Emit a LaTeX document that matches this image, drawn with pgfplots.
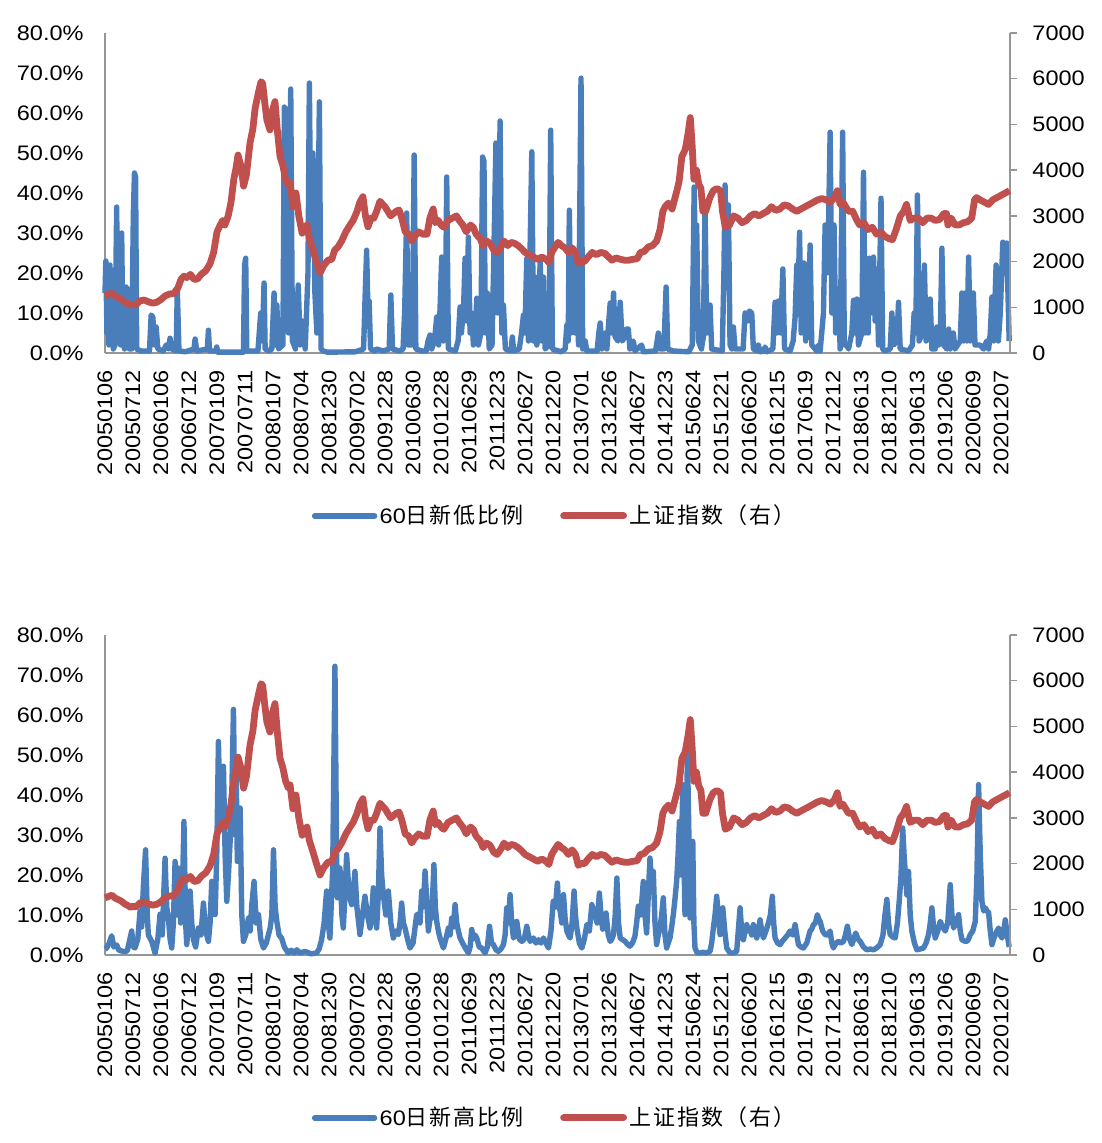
\documentclass[border=0pt]{standalone}
\usepackage{fontspec}
\setmainfont[FakeStretch=1.12]{Liberation Sans}
\newfontfamily\cjk[LetterSpace=9]{Noto Sans CJK SC}
\usepackage{pgfplots}
\usepackage{pgfplotstable}
\pgfplotsset{compat=1.18}
\definecolor{sblue}{RGB}{74,126,187}
\definecolor{sred}{RGB}{192,80,77}
\definecolor{axisgray}{RGB}{150,150,150}

\pgfplotstableread{
t v
0.00 1250
0.12 1280
0.25 1310
0.35 1250
0.45 1220
0.58 1180
0.70 1120
0.82 1080
0.92 1040
1.00 1070
1.10 1050
1.25 1140
1.40 1160
1.55 1120
1.70 1090
1.85 1110
2.00 1170
2.15 1250
2.30 1290
2.45 1300
2.60 1420
2.72 1620
2.82 1680
2.92 1650
3.05 1720
3.18 1610
3.30 1620
3.45 1730
3.60 1800
3.75 1950
3.88 2200
4.00 2650
4.10 2780
4.20 2900
4.28 2800
4.40 3000
4.50 3300
4.60 3800
4.68 4050
4.75 4330
4.85 4100
4.95 3650
5.05 3900
5.18 4600
5.28 4900
5.36 5350
5.48 5700
5.57 5935
5.63 5900
5.70 5500
5.78 5100
5.89 4880
5.98 5300
6.07 5500
6.15 4900
6.25 4300
6.35 4100
6.45 3800
6.55 3650
6.61 3720
6.71 3200
6.82 3500
6.92 3000
7.04 2620
7.12 2700
7.21 2800
7.30 2500
7.43 2250
7.55 2000
7.68 1750
7.80 1900
7.96 2030
8.10 2050
8.20 2250
8.32 2320
8.45 2450
8.60 2650
8.75 2800
8.86 2900
9.00 3100
9.10 3300
9.21 3420
9.30 3000
9.39 2760
9.50 2950
9.60 2950
9.70 3100
9.82 3320
9.92 3250
10.00 3200
10.10 3100
10.20 3000
10.30 3050
10.40 3100
10.50 3130
10.60 2950
10.72 2650
10.85 2600
10.95 2450
11.05 2550
11.20 2650
11.35 2600
11.50 2600
11.60 2950
11.72 3150
11.80 2850
11.90 2900
12.00 2800
12.10 2750
12.25 2900
12.40 2950
12.55 3000
12.65 2900
12.78 2800
12.90 2650
13.05 2800
13.15 2750
13.25 2600
13.40 2500
13.50 2350
13.62 2450
13.75 2400
13.88 2250
14.00 2200
14.12 2300
14.25 2450
14.38 2350
14.50 2420
14.62 2400
14.75 2350
14.88 2280
15.00 2200
15.15 2150
15.30 2100
15.45 2050
15.60 2100
15.75 2050
15.85 1980
15.95 2200
16.05 2300
16.18 2420
16.30 2350
16.42 2300
16.55 2200
16.68 2300
16.80 2200
16.90 1960
17.00 2000
17.12 2000
17.25 2100
17.40 2200
17.55 2150
17.70 2200
17.85 2180
17.98 2100
18.10 2030
18.25 2080
18.40 2050
18.55 2030
18.70 2030
18.85 2050
19.00 2060
19.12 2200
19.25 2220
19.40 2320
19.55 2350
19.70 2450
19.82 2700
19.92 3100
20.00 3200
20.12 3280
20.25 3150
20.40 3500
20.50 3750
20.60 4300
20.72 4450
20.82 4800
20.90 5150
20.97 4500
21.03 3800
21.12 4000
21.20 3700
21.28 3600
21.35 3100
21.45 3100
21.60 3400
21.72 3550
21.85 3600
21.98 3550
22.05 3100
22.15 2750
22.30 2800
22.45 3000
22.60 2950
22.75 2850
22.90 2900
23.05 3000
23.20 3050
23.35 3000
23.50 3050
23.65 3100
23.80 3200
23.95 3120
24.10 3150
24.25 3240
24.40 3220
24.55 3150
24.70 3100
24.85 3150
25.00 3200
25.15 3250
25.30 3300
25.45 3350
25.60 3380
25.75 3350
25.90 3300
26.05 3400
26.15 3550
26.25 3250
26.35 3300
26.45 3200
26.55 3100
26.70 3100
26.85 2900
26.95 2800
27.10 2850
27.25 2700
27.40 2750
27.55 2600
27.70 2650
27.85 2550
28.00 2500
28.12 2480
28.25 2700
28.40 3000
28.52 3100
28.62 3250
28.75 2900
28.90 2950
29.05 2950
29.20 2850
29.35 2950
29.50 2950
29.65 2900
29.80 2920
29.95 3050
30.05 3050
30.10 2800
30.22 2950
30.35 2800
30.50 2800
30.65 2850
30.80 2870
30.95 2950
31.05 3350
31.12 3400
31.25 3350
31.40 3300
31.55 3250
31.70 3350
31.85 3400
32.00 3450
32.15 3500
32.30 3550
}\redtab

\pgfplotsset{
  leftax/.style={
    width=452.5pt, height=160pt, scale only axis, anchor=south west,
    xmin=0, xmax=32.55, ymin=0, ymax=80, clip=false,
    axis x line*=bottom, axis y line*=left,
    axis line style={draw=axisgray, line width=0.75pt},
    major tick length=0pt,
    xtick={0,1.00719,...,32.3},
    xticklabels={20050106,20050712,20060106,20060712,20070109,20070711,20080107,20080704,20081230,20090702,20091228,20100630,20101228,20110629,20111223,20120627,20121220,20130701,20131226,20140627,20141223,20150624,20151221,20160620,20161215,20170619,20171212,20180613,20181210,20190613,20191206,20200609,20201207},
    xticklabel style={rotate=90, anchor=east, inner sep=0pt, font=\fontsize{10.5pt}{12pt}\selectfont},
    xticklabel shift=8.5pt,
    ytick={0,10,...,80},
    yticklabels={0.0\%,10.0\%,20.0\%,30.0\%,40.0\%,50.0\%,60.0\%,70.0\%,80.0\%},
    yticklabel style={inner sep=0pt, anchor=east, font=\fontsize{10.5pt}{12pt}\selectfont},
    yticklabel shift=10.5pt,
  },
  rightax/.style={
    width=452.5pt, height=160pt, scale only axis, anchor=south west,
    xmin=0, xmax=32.55, ymin=0, ymax=7000, clip=false,
    axis x line=none, axis y line*=right,
    axis line style={draw=axisgray, line width=0.75pt},
    tick align=outside, major tick length=3.5pt,
    ytick style={draw=axisgray, line width=0.75pt},
    ytick={0,1000,...,7000},
    yticklabels={0,1000,2000,3000,4000,5000,6000,7000},
    yticklabel style={inner sep=0pt, anchor=west, font=\fontsize{10.5pt}{12pt}\selectfont},
    yticklabel shift=7.5pt,
    legend columns=2,
    legend style={draw=none, fill=none, at={(0.497,-0.509)}, anchor=center,
      /tikz/every even column/.append style={column sep=17pt},
      nodes={inner sep=1.2pt}},
    legend image code/.code={\draw[line cap=round] (0pt,0pt) -- (30pt,0pt);},
  },
  bluel/.style={color=sblue, line width=2.7pt, line join=round},
  redl/.style={color=sred, line width=3.4pt, line join=round},
}

\begin{document}
\begin{tikzpicture}[x=1pt,y=1pt]
\useasboundingbox (0,0) rectangle (550.5,-571.5);

% ---------------- top panel ----------------
\begin{axis}[leftax, at={(52.5pt,-176.5pt)}]
\addplot[bluel] coordinates {
(0,15)(0.03,23)(0.07,5)(0.1,20)(0.14,2)(0.18,22)(0.22,3)(0.26,12)(0.3,1)(0.36,2)(0.42,36.5)(0.46,3)(0.52,18)(0.56,2)(0.6,30)(0.64,5)(0.7,1)(0.76,16.5)(0.8,3)(0.84,16)(0.88,1)(0.96,1)(1.02,35)(1.06,45)(1.1,44)(1.14,1)(1.3,0.5)(1.6,0.5)(1.66,9.5)(1.72,9)(1.78,2)(1.84,6.5)(1.9,1)(2.1,0.5)(2.2,2)(2.28,1)(2.34,3.7)(2.4,1)(2.56,0.5)(2.6,16)(2.66,0.5)(2.9,0.3)(3.2,1)(3.24,3.5)(3.3,0.5)(3.68,1)(3.72,5.7)(3.76,0.5)(3.98,0.5)(4.02,1.5)(4.06,0.2)(4.98,0.2)(5.02,22)(5.06,23.7)(5.1,0.5)(5.5,0.5)(5.6,10)(5.66,3)(5.72,17.5)(5.76,1)(5.9,0.5)(6.0,1)(6.08,15)(6.14,2)(6.18,12)(6.24,1)(6.4,2)(6.45,61.5)(6.5,20)(6.54,61)(6.6,5)(6.68,66)(6.74,3)(6.85,1)(6.95,17)(7.02,2)(7.1,8)(7.2,1)(7.3,20)(7.35,67.5)(7.4,30)(7.48,50)(7.55,15)(7.62,5)(7.71,62.8)(7.77,1)(7.85,0.5)(8.0,0.2)(9.0,0.3)(9.3,1)(9.35,13)(9.41,25.7)(9.45,13)(9.5,13)(9.55,1)(9.7,0.5)(9.75,1)(10.0,0.5)(10.22,1)(10.28,14.5)(10.34,1)(10.6,0.5)(10.72,1)(10.78,11)(10.85,35)(10.9,2)(11.05,2)(11.12,49.5)(11.18,1)(11.4,0.5)
(11.55,0.5)(11.62,3)(11.69,4.5)(11.75,1)(11.85,3)(11.93,9)(12.0,2)(12.05,11)(12.11,24)(12.17,3)(12.24,5)(12.29,44)(12.35,1)(12.6,0.5)(12.7,3)(12.77,11.5)(12.82,5)(12.9,12)(12.95,23.7)(13.0,8)(13.07,29)(13.13,5)(13.19,10)(13.25,2)(13.32,5)(13.37,13.7)(13.43,2)(13.52,5)(13.58,49)(13.63,48)(13.68,5)(13.75,15)(13.82,1)(13.92,2)(14.0,30)(14.06,52.5)(14.12,10)(14.21,58)(14.27,5)(14.33,12)(14.4,1)(14.6,0.5)(14.65,4)(14.7,0.5)(14.9,1)(14.98,5)(15.05,9.5)(15.1,5)(15.17,23.7)(15.23,3)(15.35,50.3)(15.41,3)(15.47,19)(15.53,2)(15.6,5)(15.65,23.7)(15.71,3)(15.77,19)(15.83,1)(15.97,2)(16.03,55.7)(16.09,1)(16.4,0.3)(16.55,1)(16.61,7)(16.66,3)(16.70,35.7)(16.76,5)(16.85,24)(16.91,5)(16.97,23)(17.03,2)(17.12,68.7)(17.18,1)(17.27,3)(17.33,0.5)(17.7,0.5)(17.76,5)(17.81,7.5)(17.87,1)(17.94,2)(17.99,5)(18.05,1)(18.12,8)(18.17,12.5)(18.23,5)(18.29,15)(18.35,4)(18.45,3)(18.53,12.7)(18.6,3)(18.7,4)(18.76,6)(18.82,6)(18.88,1)(19.0,3)(19.06,0.5)(19.3,2)(19.36,0.3)(19.8,0.5)(19.86,3)(19.9,5)(19.96,1)(20.1,1)(20.18,16.5)(20.24,1)(20.44,0.5)(21.0,0.3)(21.12,2)(21.19,41.5)(21.24,20)(21.28,32)(21.34,3)(21.45,1)(21.52,4)(21.58,37)(21.64,5)(21.70,11)(21.76,12)(21.82,1)
(22.2,0.5)(22.26,20)(22.3,42)(22.36,20)(22.42,37)(22.48,2)(22.55,1)(22.6,6.5)(22.66,1)(22.95,1)(23.02,10)(23.1,8)(23.18,10.5)(23.26,10)(23.32,1)(23.45,0.5)(23.5,2)(23.56,0.3)(23.7,0.5)(23.74,1.5)(23.8,0.3)(24.02,1)(24.1,12.7)(24.16,5)(24.22,13)(24.3,5)(24.38,21)(24.44,1)(24.64,0.5)(24.75,3)(24.82,9)(24.88,22)(24.93,15)(24.98,30.2)(25.04,5)(25.09,10)(25.14,22.5)(25.2,3)(25.3,10)(25.36,27)(25.42,2)(25.6,0.5)(25.66,2)(25.72,0.5)(25.84,10)(25.9,32)(25.96,20)(26.02,30)(26.08,55.2)(26.14,10)(26.22,32)(26.28,5)(26.38,16)(26.44,1)(26.53,55.2)(26.59,2)(26.68,2)(26.74,1)(26.86,5)(26.92,13.2)(26.98,5)(27.04,13.5)(27.1,2)(27.22,5)(27.28,45.2)(27.34,5)(27.40,21)(27.45,5)(27.49,23.7)(27.55,10)(27.64,24)(27.70,8)(27.76,21)(27.82,2)(27.91,38.7)(27.97,1)(28.06,0.5)(28.24,1)(28.3,10)(28.36,2)(28.48,3)(28.54,12.7)(28.6,1)(28.9,0.5)(29.04,2)(29.10,10)(29.16,5)(29.22,39.5)(29.28,3)(29.4,5)(29.47,22)(29.53,3)(29.62,5)(29.68,13.5)(29.74,1)(29.86,1)(29.92,6.5)(29.98,2)(30.04,3)(30.10,26.2)(30.16,2)(30.28,1)(30.34,6)(30.4,1)(30.51,5)(30.57,1)(30.76,3)(30.82,15)(30.88,3)(30.94,15)(31.0,3)(31.06,24)(31.12,3)(31.23,15)(31.29,2)(31.47,2)(31.6,1)(31.71,3)(31.78,1)(31.84,5)(31.90,14)(31.96,3)(32.05,22)(32.1,5)(32.13,3)(32.2,10)(32.29,27.7)(32.36,20)(32.43,27.5)(32.52,3)
};
\end{axis}
\begin{axis}[rightax, at={(52.5pt,-176.5pt)}]
\addlegendimage{bluel}
\addlegendentry{{\fontsize{10.5pt}{12pt}\selectfont 60}{\cjk\fontsize{11pt}{13pt}\selectfont 日新低比例}}
\addplot[redl] table[x expr=\thisrow{t}*1.00719, y=v] {\redtab};
\addlegendentry{{\cjk\fontsize{11pt}{13pt}\selectfont 上证指数（右）}}
\end{axis}

% ---------------- bottom panel ----------------
\begin{axis}[leftax, at={(52.5pt,-477.5pt)}]
\addplot[bluel] coordinates {
(0,1.5)(0.06,1.75)(0.15,3)(0.24,4.8)(0.32,2)(0.42,2.5)(0.5,1.2)(0.66,0.9)(0.8,1)(0.96,6)(1.02,2)(1.08,1.75)(1.18,4)(1.26,11)(1.32,7)(1.38,17.2)(1.46,26.3)(1.52,10)(1.56,5)(1.68,3.4)(1.8,0.5)(1.9,4)(1.98,10.2)(2.06,5)(2.16,24.2)(2.22,12)(2.28,9.25)(2.34,4)(2.40,1.75)(2.46,8)(2.52,23.4)(2.58,10)(2.64,21.75)(2.72,8)(2.78,15)(2.84,33.4)(2.9,8)(2.94,2.6)(3.0,8)(3.06,16)(3.12,8)(3.18,3.8)(3.26,2)(3.36,6.75)(3.45,5)(3.54,13)(3.62,6)(3.72,3.4)(3.78,8)(3.84,18.4)(3.9,12)(3.96,10.1)(4.02,25)(4.08,53.4)(4.14,33.4)(4.2,40)(4.26,47.2)(4.32,25)(4.38,13.4)(4.44,20)(4.50,28.4)(4.56,40)(4.62,61.4)(4.68,30)(4.72,45)(4.76,23.4)(4.82,30)(4.86,36.75)(4.92,10)(4.98,3.4)(5.06,5)(5.16,9.25)(5.22,6)(5.28,12.6)(5.36,18.4)(5.44,8)(5.52,10.1)(5.6,4)(5.70,1.75)(5.8,3)(5.94,6.75)(6.0,10)(6.06,26.3)(6.12,12)(6.18,8.4)(6.26,5)(6.35,4.25)(6.45,2)(6.59,0.5)(6.7,1.2)(6.8,0.5)(6.9,1.3)(7.01,0.5)(7.2,0.9)(7.4,0.3)(7.61,0.5)(7.7,1.5)(7.79,3.8)(7.88,8)(7.97,16)(8.03,8)(8.09,4.25)(8.19,21.75)(8.27,72.2)(8.33,25)(8.36,14.3)(8.45,21.75)(8.52,10)(8.57,6.75)(8.63,15)(8.69,25.1)(8.78,15)(8.87,12.6)(8.93,16)(8.99,20.9)(9.06,12)(9.17,5.1)(9.26,10)(9.35,14.7)(9.44,10)(9.53,6.75)(9.59,10)(9.65,16.8)(9.71,10)(9.77,6.75)(9.83,15)(9.89,31.75)(9.95,20)(10.01,15.1)(10.1,10)(10.19,16)(10.28,8)(10.37,4.25)(10.46,6)(10.55,5.1)(10.61,8)(10.67,13)(10.73,8)(10.79,6.75)(10.88,4)(10.97,1.75)
(11.08,3)(11.21,10.1)(11.27,10.2)(11.33,8)(11.39,16)(11.45,12)(11.51,21)(11.57,14)(11.63,6)(11.69,9)(11.75,9.25)(11.83,22.6)(11.88,12)(11.93,8.4)(11.99,6)(12.05,4.25)(12.11,3)(12.17,1.75)(12.26,4)(12.35,6.75)(12.41,5)(12.47,9.25)(12.53,7)(12.59,12.6)(12.65,8)(12.71,6)(12.77,4.25)(12.89,2.6)(12.98,1.5)(13.07,0.5)(13.13,2)(13.19,6.4)(13.25,4)(13.31,5)(13.37,4.25)(13.46,2)(13.55,1.75)(13.67,0.5)(13.75,2)(13.83,7.2)(13.9,3)(13.97,2.6)(14.06,1.3)(14.15,0.9)(14.24,1.5)(14.33,2.6)(14.39,5)(14.45,11.8)(14.51,8)(14.57,15.1)(14.63,8)(14.69,4.25)(14.75,5)(14.81,8.4)(14.9,4)(14.99,3.4)(15.08,4)(15.17,7.2)(15.23,5)(15.29,3.4)(15.35,3.8)(15.41,4.25)(15.5,3)(15.59,3.8)(15.68,3)(15.77,4.25)(15.86,3)(15.95,1.75)(16.04,6)(16.12,13.4)(16.2,12)(16.27,18)(16.32,12)(16.37,11)(16.43,8)(16.49,15.1)(16.55,9)(16.61,6)(16.67,5)(16.73,4.25)(16.8,8)(16.87,16)(16.92,10)(16.97,6.75)(17.06,3)(17.15,1.75)(17.24,4)(17.33,7.6)(17.42,6)(17.51,12.6)(17.57,11)(17.63,10.1)(17.7,8)(17.78,15.5)(17.84,10)(17.9,6.4)(17.96,7)(18.02,10.5)(18.1,5)(18.17,3.4)(18.23,4)(18.29,5.1)(18.35,10)(18.41,19.25)(18.47,8)(18.53,4.25)(18.62,3.8)(18.71,3.4)(18.8,2.6)(18.88,2.2)(18.97,3)(19.06,4.7)(19.12,8)(19.18,12.2)(19.27,10)(19.36,18.4)(19.42,10)(19.48,5.5)(19.54,15)(19.6,24.25)(19.66,18)(19.72,20.9)(19.78,8)(19.84,2.6)(19.9,5)(19.96,6.75)(20.02,10)(20.08,14.3)(20.14,5)(20.2,1.75)(20.26,3)(20.32,4.25)(20.38,7)(20.44,10.1)(20.5,14)(20.56,18.4)(20.61,25)(20.66,33.4)(20.72,20)(20.78,42.6)(20.82,25)(20.86,10.1)(20.9,30)(20.95,50.1)(21.0,30)(21.04,9.25)(21.09,20)(21.14,28.4)(21.18,8)(21.22,1.75)(21.3,0.5)(21.4,0.5)(21.5,0.7)(21.6,0.5)(21.76,0.9)
(21.82,3)(21.88,6.75)(21.94,10)(22.00,14.7)(22.06,10)(22.12,5.1)(22.17,8)(22.22,11.8)(22.29,6)(22.36,1.75)(22.48,0.5)(22.6,0.5)(22.72,0.9)(22.84,11.8)(22.9,6)(22.96,3.8)(23.02,6)(23.08,7.6)(23.14,6)(23.2,6.75)(23.26,5)(23.32,7.6)(23.38,6)(23.44,4.25)(23.5,6)(23.56,8.8)(23.62,6)(23.68,4.25)(23.77,6)(23.86,8)(23.93,10)(24.0,14.7)(24.05,8)(24.1,4.25)(24.19,3)(24.28,2.6)(24.37,3.5)(24.46,4.25)(24.55,5)(24.64,6)(24.73,5)(24.82,7.6)(24.88,5)(24.94,2.6)(25.03,2)(25.12,1.75)(25.24,3)(25.36,6)(25.42,6.5)(25.48,7.6)(25.55,8)(25.62,10.1)(25.67,9)(25.72,8.4)(25.81,6)(25.9,5.1)(25.99,5)(26.08,6)(26.14,3)(26.2,1.75)(26.29,3)(26.38,3.4)(26.47,3)(26.56,3.4)(26.63,5)(26.7,7.2)(26.78,4)(26.86,2.6)(26.93,4)(27.0,5.5)(27.08,4)(27.16,3.4)(27.28,2)(27.4,1.3)(27.52,1.5)(27.64,1.3)(27.76,1.8)(27.88,2.6)(27.98,5)(28.05,10)(28.12,13.9)(28.18,8)(28.24,5.1)(28.33,4.5)(28.42,4.25)(28.5,8)(28.57,13.9)(28.63,20)(28.69,31.75)(28.74,25)(28.78,20.9)(28.84,15)(28.9,20.9)(28.96,10)(29.02,6)(29.11,3)(29.2,1.3)(29.32,1.5)(29.44,1.75)(29.53,3)(29.62,5.1)(29.68,8)(29.74,11.8)(29.8,7)(29.86,4.25)(29.95,6)(30.04,8.4)(30.13,7)(30.22,6)(30.31,8)(30.40,17.6)(30.46,10)(30.52,6.75)(30.61,8)(30.70,10.1)(30.76,6)(30.82,3.8)(30.91,3.5)(31.0,3.4)(31.06,4)(31.12,5.1)(31.21,6)(31.30,8.4)(31.36,20)(31.42,42.6)(31.48,25)(31.54,13.4)(31.6,11)(31.66,11.8)(31.72,11)(31.78,10.6)(31.84,6)(31.9,2.6)(31.96,4)(32.02,5.1)(32.08,6)(32.14,6.75)(32.2,5)(32.26,4.25)(32.32,6)(32.38,8.8)(32.45,5)(32.52,2)
};
\end{axis}
\begin{axis}[rightax, at={(52.5pt,-477.5pt)}]
\addlegendimage{bluel}
\addlegendentry{{\fontsize{10.5pt}{12pt}\selectfont 60}{\cjk\fontsize{11pt}{13pt}\selectfont 日新高比例}}
\addplot[redl] table[x expr=\thisrow{t}*1.00719, y=v] {\redtab};
\addlegendentry{{\cjk\fontsize{11pt}{13pt}\selectfont 上证指数（右）}}
\end{axis}
\end{tikzpicture}
\end{document}
